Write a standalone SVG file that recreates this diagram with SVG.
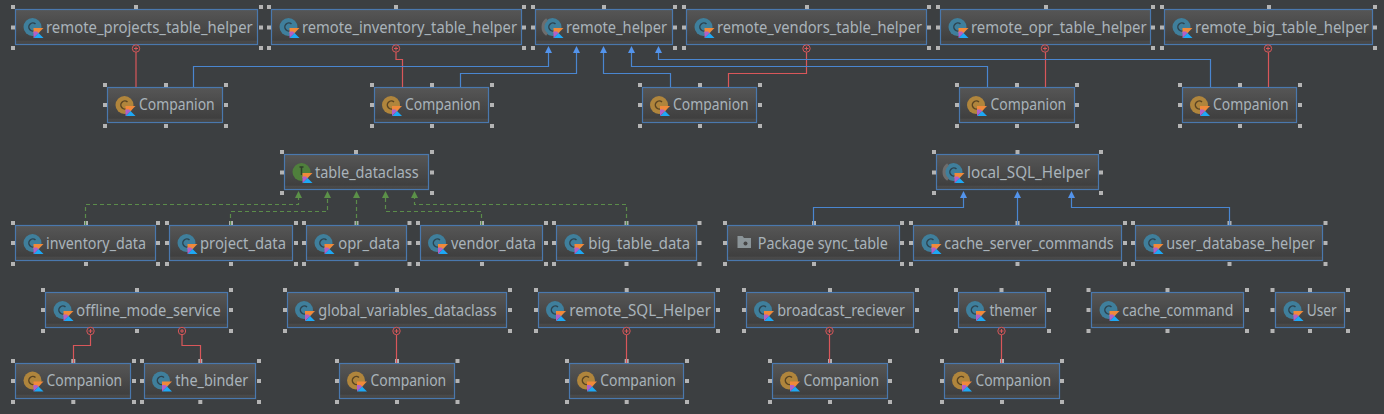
<svg xmlns="http://www.w3.org/2000/svg" width="1384" height="414" viewBox="0 0 1384 414">
<style>
.box{fill:url(#nodeFill);stroke:#4a78ad;stroke-width:1.2}
.t{font-family:"Noto Sans",sans-serif;font-size:15.5px;fill:#a9b3ba}
.h{stroke:#b4b4b4;stroke-width:4;fill:none}
.inh{fill:none;stroke:#4a86d0;stroke-width:1.2}
.red{fill:none;stroke:#d9575a;stroke-width:1.2}
.dash{fill:none;stroke:#5b8c4a;stroke-width:1.2;stroke-dasharray:4 3}
.ablue{fill:#5394ec}
.agreen{fill:#5b9148}
</style>
<defs>
<linearGradient id="nodeFill" x1="0" y1="0" x2="0" y2="1">
<stop offset="0" stop-color="#565656"/><stop offset="0.88" stop-color="#3f3f3f"/><stop offset="0.9" stop-color="#4a4a4a"/><stop offset="1" stop-color="#444"/>
</linearGradient>
<g id="k">
<polygon points="0,0 10,0 5,5 0,5" fill="#f0893a"/>
<polygon points="0,10 5,5 10,10" fill="#1ea8f5"/>
<polygon points="0,3.5 3.5,3.5 5,5 0,10" fill="#b060c8"/>
</g>
<g id="ic"><circle r="9" fill="#3f7f9c"/><path d="M3-3A4 4 0 1 0 3 3" fill="none" stroke="#2d4450" stroke-width="1.5"/><use href="#k" x="1" y="1"/></g>
<g id="ia"><circle r="9" fill="#3f7f9c"/><path d="M-5.5-7.5A9 9 0 0 0-5.5 7.5" fill="none" stroke="#6d6d6d" stroke-width="3"/><path d="M3-3A4 4 0 1 0 3 3" fill="none" stroke="#2d4450" stroke-width="1.5"/><use href="#k" x="1" y="1"/></g>
<g id="io"><circle r="9" fill="#b0853c"/><path d="M3-3A4 4 0 1 0 3 3" fill="none" stroke="#5a4524" stroke-width="1.5"/><use href="#k" x="1" y="1"/></g>
<g id="ii"><circle r="9" fill="#4f7f3c"/><path d="M-2-5h4M0-5v8" fill="none" stroke="#2f3f2a" stroke-width="1.5"/><use href="#k" x="1" y="1"/></g>
<g id="ip"><path d="M-7-6h5l1.5 2h7v10h-13.5z" fill="#8b9498"/><circle cx="1" cy="1.5" r="2" fill="#454545"/></g>
<polygon id="ab" points="0,0 3.5,7 -3.5,7" class="ablue"/>
<polygon id="ag" points="0,0 3.5,7 -3.5,7" class="agreen"/>
<g id="plus"><circle r="3.7" fill="#3c3f41" stroke="#d9575a" stroke-width="1"/><path d="M-2 0h4M0-2v4" stroke="#d9575a" stroke-width="1"/></g>
</defs>
<rect width="1384" height="414" fill="#3c3f41"/>

<g id="n1"><rect class="box" x="15.5" y="9.5" width="242" height="35"/><use href="#ic" x="32.5" y="27"/><text class="t" x="46" y="32.5" textLength="206.7" lengthAdjust="spacingAndGlyphs">remote_projects_table_helper</text><path class="h" d="M11 7h4M134 7h4M259 7h4M11 27.5h4M259 27.5h4M11 48h4M134 48h4M259 48h4"/></g>
<g id="n2"><rect class="box" x="271.5" y="9.5" width="250" height="35"/><use href="#ic" x="288.5" y="27"/><text class="t" x="302" y="32.5" textLength="215" lengthAdjust="spacingAndGlyphs">remote_inventory_table_helper</text><path class="h" d="M267 7h4M394 7h4M522 7h4M267 27.5h4M522 27.5h4M267 48h4M394 48h4M522 48h4"/></g>
<g id="n3"><rect class="box" x="535.5" y="9.5" width="137" height="35"/><use href="#ia" x="552.5" y="27"/><text class="t" x="566" y="32.5" textLength="101" lengthAdjust="spacingAndGlyphs">remote_helper</text><path class="h" d="M531 7h4M602 7h4M673 7h4M531 27.5h4M673 27.5h4M531 48h4M673 48h4"/></g>
<g id="n4"><rect class="box" x="686.5" y="9.5" width="240" height="35"/><use href="#ic" x="703.5" y="27"/><text class="t" x="717" y="32.5" textLength="205" lengthAdjust="spacingAndGlyphs">remote_vendors_table_helper</text><path class="h" d="M682 7h4M805 7h4M927 7h4M682 27.5h4M927 27.5h4M682 48h4M805 48h4M927 48h4"/></g>
<g id="n5"><rect class="box" x="940.5" y="9.5" width="210" height="35"/><use href="#ic" x="957.5" y="27"/><text class="t" x="971" y="32.5" textLength="175.7" lengthAdjust="spacingAndGlyphs">remote_opr_table_helper</text><path class="h" d="M936 7h4M1044 7h4M1151 7h4M936 27.5h4M1151 27.5h4M936 48h4M1044 48h4M1151 48h4"/></g>
<g id="n6"><rect class="box" x="1164.5" y="9.5" width="208" height="35"/><use href="#ic" x="1181.5" y="27"/><text class="t" x="1195" y="32.5" textLength="174" lengthAdjust="spacingAndGlyphs">remote_big_table_helper</text><path class="h" d="M1160 7h4M1267 7h4M1373 7h4M1160 27.5h4M1373 27.5h4M1160 48h4M1267 48h4M1373 48h4"/></g>

<g id="c1"><rect class="box" x="107.5" y="87.5" width="115" height="35"/><use href="#io" x="124.5" y="105"/><text class="t" x="139" y="110" textLength="75.7" lengthAdjust="spacingAndGlyphs">Companion</text><path class="h" d="M103 85h4M164 85h4M224 85h4M103 105h4M224 105h4M103 126h4M164 126h4M224 126h4"/></g>
<g id="c2"><rect class="box" x="374.5" y="87.5" width="114" height="35"/><use href="#io" x="391" y="105"/><text class="t" x="405" y="110" textLength="75.7" lengthAdjust="spacingAndGlyphs">Companion</text><path class="h" d="M370 85h4M430 85h4M490 85h4M370 105h4M490 105h4M370 126h4M430 126h4M490 126h4"/></g>
<g id="c3"><rect class="box" x="642.5" y="87.5" width="114" height="35"/><use href="#io" x="659" y="105"/><text class="t" x="673" y="110" textLength="75.7" lengthAdjust="spacingAndGlyphs">Companion</text><path class="h" d="M638 85h4M698 85h4M758 85h4M638 105h4M758 105h4M638 126h4M698 126h4M758 126h4"/></g>
<g id="c4"><rect class="box" x="959.5" y="87.5" width="115" height="35"/><use href="#io" x="976" y="105"/><text class="t" x="990.5" y="110" textLength="75.7" lengthAdjust="spacingAndGlyphs">Companion</text><path class="h" d="M955 85h4M1015 85h4M1075 85h4M955 105h4M1075 105h4M955 126h4M1015 126h4M1075 126h4"/></g>
<g id="c5"><rect class="box" x="1182.5" y="87.5" width="114" height="35"/><use href="#io" x="1199" y="105"/><text class="t" x="1213" y="110" textLength="75.7" lengthAdjust="spacingAndGlyphs">Companion</text><path class="h" d="M1178 85h4M1238 85h4M1298 85h4M1178 105h4M1298 105h4M1178 126h4M1238 126h4M1298 126h4"/></g>

<g id="tc"><rect class="box" x="284.5" y="154.5" width="144" height="35"/><use href="#ii" x="301.5" y="172"/><text class="t" x="315" y="177.5" textLength="103.7" lengthAdjust="spacingAndGlyphs">table_dataclass</text><path class="h" d="M280 152h4M354 152h4M430 152h4M280 172.5h4M430 172.5h4M280 193h4M430 193h4"/></g>
<g id="ls"><rect class="box" x="936.5" y="154.5" width="162" height="35"/><use href="#ia" x="953.5" y="172"/><text class="t" x="967" y="177.5" textLength="123" lengthAdjust="spacingAndGlyphs">local_SQL_Helper</text><path class="h" d="M932 152h4M1015.5 152h4M1099 152h4M932 172.5h4M1099 172.5h4M932 193h4M1099 193h4"/></g>

<g id="d1"><rect class="box" x="15.5" y="225.5" width="140" height="35"/><use href="#ic" x="32.5" y="243"/><text class="t" x="46" y="248.5" textLength="100" lengthAdjust="spacingAndGlyphs">inventory_data</text><path class="h" d="M11 223h4M84 223h4M156 223h4M11 243h4M156 243h4M11 264h4M84 264h4M156 264h4"/></g>
<g id="d2"><rect class="box" x="169.5" y="225.5" width="123" height="35"/><use href="#ic" x="186.5" y="243"/><text class="t" x="200" y="248.5" textLength="86" lengthAdjust="spacingAndGlyphs">project_data</text><path class="h" d="M165 223h4M229 223h4M294 223h4M165 243h4M294 243h4M165 264h4M229 264h4M294 264h4"/></g>
<g id="d3"><rect class="box" x="306.5" y="225.5" width="100" height="35"/><use href="#ic" x="323.5" y="243"/><text class="t" x="338.3" y="248.5" textLength="61.7" lengthAdjust="spacingAndGlyphs">opr_data</text><path class="h" d="M302 223h4M354.5 223h4M407.5 223h4M302 243h4M407.5 243h4M302 264h4M354.5 264h4M407.5 264h4"/></g>
<g id="d4"><rect class="box" x="420.5" y="225.5" width="122" height="35"/><use href="#ic" x="437" y="243"/><text class="t" x="451" y="248.5" textLength="85" lengthAdjust="spacingAndGlyphs">vendor_data</text><path class="h" d="M416 223h4M480 223h4M544 223h4M416 243h4M544 243h4M416 264h4M480 264h4M544 264h4"/></g>
<g id="d5"><rect class="box" x="556.5" y="225.5" width="140" height="35"/><use href="#ic" x="573.5" y="243"/><text class="t" x="588.3" y="248.5" textLength="101.7" lengthAdjust="spacingAndGlyphs">big_table_data</text><path class="h" d="M552 223h4M624.5 223h4M697.5 223h4M552 243h4M697.5 243h4M552 264h4M624.5 264h4M697.5 264h4"/></g>
<g id="pk"><rect class="box" x="727.5" y="225.5" width="172" height="35"/><use href="#ip" x="744.5" y="242"/><text class="t" x="757.8" y="248.5" textLength="130" lengthAdjust="spacingAndGlyphs">Package sync_table</text><path class="h" d="M723 223h4M812 223h4M900 223h4M723 243h4M900 243h4M723 264h4M812 264h4M900 264h4"/></g>
<g id="cs"><rect class="box" x="913.5" y="225.5" width="208" height="35"/><use href="#ic" x="930.5" y="243"/><text class="t" x="944.3" y="248.5" textLength="169.4" lengthAdjust="spacingAndGlyphs">cache_server_commands</text><path class="h" d="M909 223h4M1015.5 223h4M1123 223h4M909 243h4M1123 243h4M909 264h4M1015.5 264h4M1123 264h4"/></g>
<g id="ud"><rect class="box" x="1135.5" y="225.5" width="187" height="35"/><use href="#ic" x="1152.5" y="243"/><text class="t" x="1166.3" y="248.5" textLength="148.6" lengthAdjust="spacingAndGlyphs">user_database_helper</text><path class="h" d="M1131 223h4M1227.5 223h4M1323.5 223h4M1131 243h4M1323.5 243h4M1131 264h4M1227.5 264h4M1323.5 264h4"/></g>

<g id="off"><rect class="box" x="45.5" y="292.5" width="182" height="35"/><use href="#ic" x="62.5" y="310"/><text class="t" x="76.3" y="315.5" textLength="144.4" lengthAdjust="spacingAndGlyphs">offline_mode_service</text><path class="h" d="M41 290h4M135 290h4M229 290h4M41 310h4M229 310h4M41 331h4M135 331h4M229 331h4"/></g>
<g id="glo"><rect class="box" x="287.5" y="292.5" width="219" height="35"/><use href="#ic" x="304" y="310"/><text class="t" x="318.3" y="315.5" textLength="178.4" lengthAdjust="spacingAndGlyphs">global_variables_dataclass</text><path class="h" d="M283 290h4M395 290h4M508 290h4M283 310h4M508 310h4M283 331h4M395 331h4M508 331h4"/></g>
<g id="rem"><rect class="box" x="538.5" y="292.5" width="176" height="35"/><use href="#ic" x="555" y="310"/><text class="t" x="569.2" y="315.5" textLength="141.8" lengthAdjust="spacingAndGlyphs">remote_SQL_Helper</text><path class="h" d="M534 290h4M624.7 290h4M716 290h4M534 310h4M716 310h4M534 331h4M624.7 331h4M716 331h4"/></g>
<g id="bro"><rect class="box" x="746.5" y="292.5" width="167" height="35"/><use href="#ic" x="763" y="310"/><text class="t" x="777.2" y="315.5" textLength="127.8" lengthAdjust="spacingAndGlyphs">broadcast_reciever</text><path class="h" d="M742 290h4M828 290h4M915 290h4M742 310h4M915 310h4M742 331h4M828 331h4M915 331h4"/></g>
<g id="the"><rect class="box" x="958.5" y="292.5" width="87" height="35"/><use href="#ic" x="975" y="310"/><text class="t" x="989.4" y="315.5" textLength="47.5" lengthAdjust="spacingAndGlyphs">themer</text><path class="h" d="M954 290h4M999.5 290h4M1047 290h4M954 310h4M1047 310h4M954 331h4M999.5 331h4M1047 331h4"/></g>
<g id="cc"><rect class="box" x="1091.5" y="292.5" width="152" height="35"/><use href="#ic" x="1108.5" y="310"/><text class="t" x="1122.3" y="315.5" textLength="111" lengthAdjust="spacingAndGlyphs">cache_command</text><path class="h" d="M1086.5 290h4M1165.5 290h4M1245 290h4M1086.5 310h4M1245 310h4M1086.5 331h4M1165.5 331h4M1245 331h4"/></g>
<g id="usr"><rect class="box" x="1275.5" y="292.5" width="69" height="35"/><use href="#ic" x="1292.5" y="310"/><text class="t" x="1306.7" y="315.5" textLength="30" lengthAdjust="spacingAndGlyphs">User</text><path class="h" d="M1270.5 290h4M1308 290h4M1346 290h4M1270.5 310h4M1346 310h4M1270.5 331h4M1308 331h4M1346 331h4"/></g>

<g id="c6"><rect class="box" x="15.5" y="363.5" width="115" height="35"/><use href="#io" x="32.5" y="380.5"/><text class="t" x="46.5" y="385.5" textLength="75.7" lengthAdjust="spacingAndGlyphs">Companion</text><path class="h" d="M11 361h4M71.3 361h4M132 361h4M11 381h4M132 381h4M11 402h4M71.3 402h4M132 402h4"/></g>
<g id="tb"><rect class="box" x="144.5" y="363.5" width="111" height="35"/><use href="#ic" x="161" y="380.5"/><text class="t" x="175.3" y="385.5" textLength="73" lengthAdjust="spacingAndGlyphs">the_binder</text><path class="h" d="M140 361h4M198.3 361h4M257 361h4M140 381h4M257 381h4M140 402h4M198.3 402h4M257 402h4"/></g>
<g id="c7"><rect class="box" x="339.5" y="363.5" width="115" height="35"/><use href="#io" x="356" y="380.5"/><text class="t" x="370.5" y="385.5" textLength="75.7" lengthAdjust="spacingAndGlyphs">Companion</text><path class="h" d="M335 361h4M395 361h4M455.5 361h4M335 381h4M455.5 381h4M335 402h4M395 402h4M455.5 402h4"/></g>
<g id="c8"><rect class="box" x="569.5" y="363.5" width="114" height="35"/><use href="#io" x="586" y="380.5"/><text class="t" x="600.2" y="385.5" textLength="75.7" lengthAdjust="spacingAndGlyphs">Companion</text><path class="h" d="M565 361h4M624.7 361h4M685 361h4M565 381h4M685 381h4M565 402h4M624.7 402h4M685 402h4"/></g>
<g id="c9"><rect class="box" x="772.5" y="363.5" width="115" height="35"/><use href="#io" x="789" y="380.5"/><text class="t" x="803.4" y="385.5" textLength="75.7" lengthAdjust="spacingAndGlyphs">Companion</text><path class="h" d="M768 361h4M828 361h4M888 361h4M768 381h4M888 381h4M768 402h4M828 402h4M888 402h4"/></g>
<g id="c10"><rect class="box" x="944.5" y="363.5" width="115" height="35"/><use href="#io" x="961" y="380.5"/><text class="t" x="975.4" y="385.5" textLength="75.7" lengthAdjust="spacingAndGlyphs">Companion</text><path class="h" d="M940 361h4M1000 361h4M1060 361h4M940 381h4M1060 381h4M940 402h4M1000 402h4M1060 402h4"/></g>

<g id="connectors">
<path class="red" d="M136 52V87"/><use href="#plus" x="136" y="48.5"/>
<path class="red" d="M396 52V59.5H402.5V87"/><use href="#plus" x="396" y="48.5"/>
<path class="red" d="M728.5 87V73.5H806.5V52"/><use href="#plus" x="806.5" y="48.5"/>
<path class="red" d="M1045.5 52V87"/><use href="#plus" x="1045" y="48.5"/>
<path class="red" d="M1268.5 52V87"/><use href="#plus" x="1268" y="48.5"/>
<path class="inh" d="M193.5 87V66.5H548.5V53"/><use href="#ab" x="548.5" y="46"/>
<path class="inh" d="M460.5 87V73.5H576.5V53"/><use href="#ab" x="576.5" y="46"/>
<path class="inh" d="M670.5 87V73.5H603.5V53"/><use href="#ab" x="603.5" y="46"/>
<path class="inh" d="M987.5 87V66.5H631.5V53"/><use href="#ab" x="631.5" y="46"/>
<path class="inh" d="M1210.5 87V59.5H658.5V53"/><use href="#ab" x="658.5" y="46"/>
<path class="dash" d="M85.5 225V204.5H298.5V198"/><use href="#ag" x="298.5" y="191"/>
<path class="dash" d="M230.5 225V211.5H327.5V198"/><use href="#ag" x="327.5" y="191"/>
<path class="dash" d="M356.5 225V198"/><use href="#ag" x="356.5" y="191"/>
<path class="dash" d="M481.5 225V211.5H385.5V198"/><use href="#ag" x="385.5" y="191"/>
<path class="dash" d="M626.5 225V204.5H414.5V198"/><use href="#ag" x="414.5" y="191"/>
<path class="inh" d="M813.5 225V207.5H963.5V198"/><use href="#ab" x="963.5" y="191"/>
<path class="inh" d="M1017.5 225V198"/><use href="#ab" x="1017.5" y="191"/>
<path class="inh" d="M1229.5 225V207.5H1071.5V198"/><use href="#ab" x="1071.5" y="191"/>
<path class="red" d="M90.5 334.5V345.5H73.5V363"/><use href="#plus" x="90.5" y="331"/>
<path class="red" d="M182 334.5V345.5H200.5V363"/><use href="#plus" x="182" y="331"/>
<path class="red" d="M396.5 334.5V363"/><use href="#plus" x="396.5" y="331"/>
<path class="red" d="M626.5 334.5V363"/><use href="#plus" x="626.5" y="331"/>
<path class="red" d="M829.5 334.5V363"/><use href="#plus" x="829.5" y="331"/>
<path class="red" d="M1001.5 334.5V363"/><use href="#plus" x="1001.5" y="331"/>
</g>
</svg>
